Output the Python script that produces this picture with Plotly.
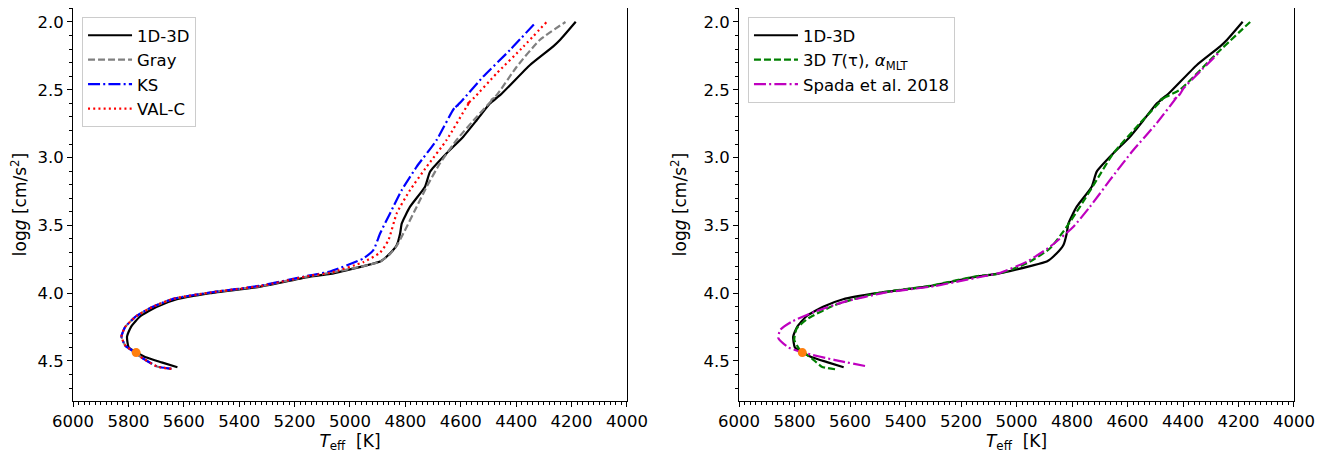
import plotly.graph_objects as go

# ---------------- data ----------------
# Panel 1 & 2: 1D-3D (black)
t_1d3d = [5623, 5680, 5740, 5772, 5799, 5805, 5791, 5757, 5697, 5625, 5505, 5324, 5144, 5072,
          4951, 4891, 4855, 4831, 4819, 4813, 4783, 4729, 4711, 4651, 4591, 4542, 4494,
          4470, 4482, 4458, 4350, 4266, 4242, 4185]
g_1d3d = [4.546, 4.51, 4.47, 4.436, 4.40, 4.32, 4.25, 4.17, 4.10, 4.045, 4.00, 3.952, 3.878, 3.858,
          3.80, 3.767, 3.706, 3.645, 3.56, 3.485, 3.362, 3.215, 3.104, 2.968, 2.846, 2.723, 2.60,
          2.56, 2.575, 2.54, 2.317, 2.18, 2.133, 1.998]

# Gray
t_gray = [5645, 5697, 5757, 5772, 5810, 5825, 5812, 5772, 5712, 5635, 5505, 5324, 5144, 5072,
          4951, 4891, 4855, 4831, 4807, 4795, 4759, 4723, 4675, 4615, 4542, 4480, 4490, 4470,
          4398, 4315, 4222]
g_gray = [4.558, 4.54, 4.468, 4.44, 4.39, 4.32, 4.25, 4.17, 4.10, 4.04, 3.995, 3.948, 3.873, 3.85,
          3.80, 3.767, 3.71, 3.65, 3.558, 3.51, 3.362, 3.215, 3.042, 2.87, 2.698, 2.56, 2.575, 2.538,
          2.33, 2.133, 2.0]

# KS (blue)
t_ks = [5645, 5697, 5757, 5772, 5810, 5825, 5812, 5772, 5712, 5635, 5505, 5324, 5144, 5072,
        4951, 4915, 4891, 4855, 4813, 4759, 4687, 4625, 4610, 4620, 4600, 4519, 4422, 4328]
g_ks = [4.558, 4.54, 4.468, 4.44, 4.39, 4.32, 4.25, 4.17, 4.10, 4.04, 3.995, 3.945, 3.868, 3.84,
        3.743, 3.68, 3.558, 3.41, 3.239, 3.067, 2.87, 2.64, 2.615, 2.63, 2.59, 2.403, 2.206, 2.0]

# VAL-C (red)
t_valc = [5645, 5697, 5757, 5772, 5810, 5825, 5812, 5772, 5712, 5635, 5505, 5324, 5144, 5072,
          4951, 4891, 4861, 4831, 4783, 4723, 4651, 4579, 4567, 4577, 4555, 4470, 4374, 4290]
g_valc = [4.558, 4.54, 4.468, 4.44, 4.39, 4.32, 4.25, 4.17, 4.10, 4.04, 3.995, 3.947, 3.871, 3.85,
          3.77, 3.70, 3.608, 3.41, 3.239, 3.067, 2.87, 2.625, 2.59, 2.605, 2.565, 2.378, 2.182, 2.0]

# 3D T(tau), alpha_MLT (green)
t_3d = [5654, 5702, 5738, 5780, 5801, 5792, 5750, 5654, 5505, 5324, 5144, 5059, 4963, 4879,
        4819, 4771, 4711, 4651, 4555, 4470, 4480, 4459, 4411, 4278, 4158]
g_3d = [4.561, 4.542, 4.48, 4.419, 4.345, 4.259, 4.185, 4.087, 4.0, 3.95, 3.875, 3.855, 3.78, 3.669,
        3.51, 3.362, 3.165, 2.968, 2.747, 2.56, 2.575, 2.55, 2.50, 2.231, 2.0]

# Spada et al. 2018 (magenta)
t_spada = [5546, 5654, 5768, 5822, 5858, 5852, 5810, 5726, 5618, 5474, 5294, 5113, 5059, 4963,
           4879, 4795, 4735, 4663, 4579, 4495, 4422, 4430, 4412, 4398, 4339, 4273]
g_spada = [4.537, 4.493, 4.439, 4.40, 4.333, 4.271, 4.21, 4.136, 4.062, 3.996, 3.947, 3.873, 3.85,
           3.768, 3.657, 3.51, 3.362, 3.165, 2.944, 2.747, 2.551, 2.565, 2.535, 2.489, 2.366, 2.231]

# Sun
t_sun = [5772]
g_sun = [4.438]

x_ticks = [6000, 5800, 5600, 5400, 5200, 5000, 4800, 4600, 4400, 4200, 4000]
y_ticks = [2.0, 2.5, 3.0, 3.5, 4.0, 4.5]

# ---------------- figure ----------------
FONT = "DejaVu Sans"
fig = go.Figure()

def line(x, y, name, color, dash, xa, ya, legend, width=2.2):
    fig.add_trace(go.Scatter(x=x, y=y, mode="lines", name=name,
                             line=dict(color=color, width=width, dash=dash,
                                       shape="spline", smoothing=0.5),
                             xaxis=xa, yaxis=ya, legend=legend))

DASH = "7px,3px"
DASHDOT = "12px,3.2px,2px,3.2px"
DOT = "2px,3.2px"

# panel 1
line(t_1d3d, g_1d3d, "1D-3D", "black", "solid", "x", "y", "legend")
line(t_gray, g_gray, "Gray", "gray", DASH, "x", "y", "legend")
line(t_ks, g_ks, "KS", "#0000ff", DASHDOT, "x", "y", "legend")
line(t_valc, g_valc, "VAL-C", "#ff0000", DOT, "x", "y", "legend")
fig.add_trace(go.Scatter(x=t_sun, y=g_sun, mode="markers", showlegend=False,
                         marker=dict(color="#ff7f0e", size=9), xaxis="x", yaxis="y"))

# panel 2
line(t_1d3d, g_1d3d, "1D-3D", "black", "solid", "x2", "y2", "legend2")
line(t_3d, g_3d, "3D <i>T</i>(τ), <i>α</i><sub>MLT</sub>", "#008000", DASH, "x2", "y2", "legend2")
line(t_spada, g_spada, "Spada et al. 2018", "#bf00bf", DASHDOT, "x2", "y2", "legend2")
fig.add_trace(go.Scatter(x=t_sun, y=g_sun, mode="markers", showlegend=False,
                         marker=dict(color="#ff7f0e", size=9), xaxis="x2", yaxis="y2"))

axis_common = dict(showline=True, linecolor="black", linewidth=1, mirror=True,
                   showgrid=False, zeroline=False, ticks="outside", ticklen=5,
                   tickwidth=1, tickcolor="black", automargin=False,
                   tickfont=dict(family=FONT, size=16.5, color="black"))

xcommon = dict(axis_common, range=[6000, 4000], tickvals=x_ticks,
               ticktext=[str(v) for v in x_ticks],
               minor=dict(dtick=20, ticklen=3, tickwidth=1, tickcolor="black", ticks="outside", showgrid=False),
               title=dict(text="<i>T</i><sub>eff</sub>  [K]", font=dict(family=FONT, size=17, color="black"),
                          standoff=2))
ycommon = dict(axis_common, range=[4.795, 1.897], tickvals=y_ticks,
               ticktext=["%.1f" % v for v in y_ticks],
               minor=dict(dtick=0.1, tick0=2.0, ticklen=3, tickwidth=1, tickcolor="black", ticks="outside", showgrid=False),
               title=dict(text="log<i>g</i> [cm/s<sup>2</sup>]", font=dict(family=FONT, size=17, color="black"),
                          standoff=12))

legend_common = dict(xanchor="left", yanchor="top", itemwidth=44,
                     bgcolor="rgba(255,255,255,0.8)", bordercolor="#cccccc", borderwidth=1,
                     font=dict(family=FONT, size=16.5, color="black"))

# page body has an 8px margin: shrink the figure and margins accordingly
fig.update_layout(
    width=1333, height=451,
    margin=dict(l=65, r=47, t=0, b=58, autoexpand=False),
    paper_bgcolor="white", plot_bgcolor="white",
    font=dict(family=FONT, color="black"),
    xaxis=dict(xcommon, domain=[0, 0.4537], anchor="y"),
    yaxis=dict(ycommon, domain=[0, 1], anchor="x"),
    xaxis2=dict(xcommon, domain=[0.5455, 1], anchor="y2"),
    yaxis2=dict(ycommon, domain=[0, 1], anchor="x2"),
    legend=dict(legend_common, x=0.0074, y=0.977),
    legend2=dict(legend_common, x=0.5528, y=0.977),
    showlegend=True,
)

fig.write_html("out.html")
